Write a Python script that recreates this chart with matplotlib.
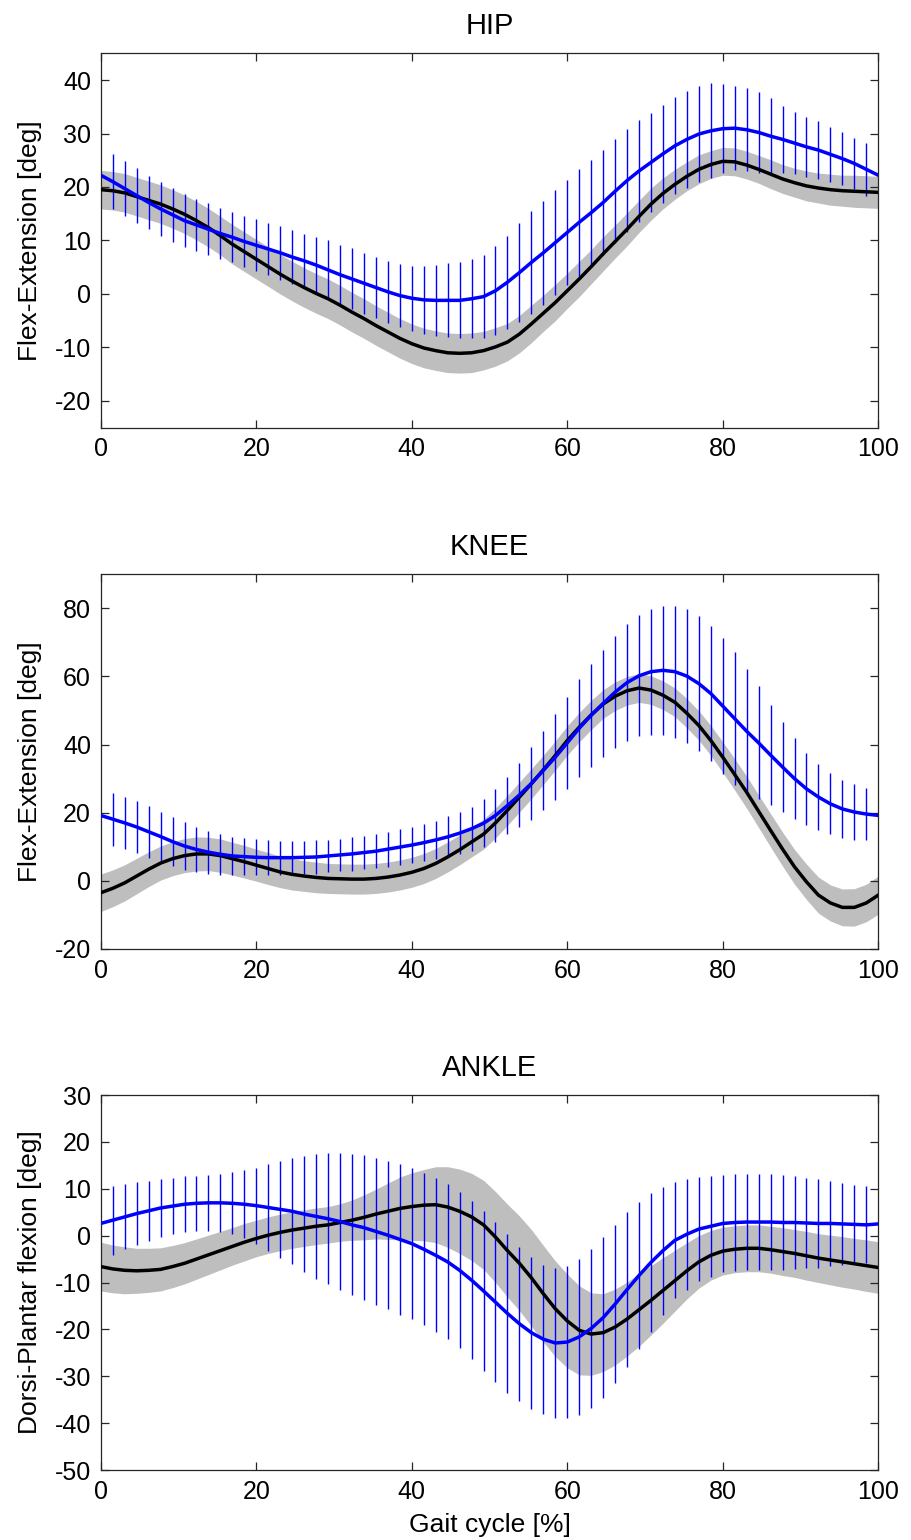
import numpy as np
import matplotlib
matplotlib.use("Agg")
from matplotlib import pyplot as plt

plt.rcParams['font.family'] = ['Liberation Sans', 'DejaVu Sans']
plt.rcParams['axes.unicode_minus'] = False

# gait cycle sampled at 66 points, 0..100 %
gait = np.linspace(0, 100, 66)

# reference group (black line, grey band = +/- 1 SD)
hip_ref = [19.5, 19.3, 18.9, 18.2, 17.5, 16.8, 15.9, 14.9, 13.7, 12.4, 10.9,
           9.3, 7.9, 6.5, 5.1, 3.7, 2.4, 1.2, 0.1, -0.9, -2.1, -3.4,
           -4.6, -5.9, -7.1, -8.3, -9.3, -10.1, -10.6, -11.0, -11.1, -11.0, -10.6,
           -9.9, -9.0, -7.5, -5.6, -3.6, -1.6, 0.6, 2.8, 5.1, 7.5, 9.8,
           12.1, 14.5, 16.8, 18.8, 20.5, 22.0, 23.3, 24.2, 24.8, 24.7, 24.1,
           23.3, 22.4, 21.5, 20.8, 20.2, 19.8, 19.5, 19.3, 19.2, 19.1, 19.0]
hip_ref_sd = [3.6, 3.6, 3.6, 3.6, 3.6, 3.6, 3.6, 3.6, 3.6, 3.6, 3.6,
              3.7, 3.7, 3.7, 3.7, 3.7, 3.7, 3.7, 3.7, 3.7, 3.7, 3.7,
              3.7, 3.7, 3.7, 3.7, 3.7, 3.7, 3.7, 3.7, 3.7, 3.7, 3.6,
              3.6, 3.5, 3.5, 3.5, 3.4, 3.4, 3.3, 3.3, 3.2, 3.2, 3.1,
              3.1, 3.0, 3.0, 2.9, 2.8, 2.7, 2.7, 2.6, 2.6, 2.6, 2.6,
              2.6, 2.7, 2.7, 2.7, 2.8, 2.8, 2.9, 2.9, 3.0, 3.0, 3.0]
knee_ref = [-3.5, -2.2, -0.6, 1.4, 3.4, 5.2, 6.5, 7.4, 7.9, 7.9, 7.4,
            6.5, 5.6, 4.6, 3.6, 2.6, 1.9, 1.4, 1.0, 0.7, 0.6, 0.5,
            0.5, 0.7, 1.1, 1.7, 2.5, 3.6, 5.1, 7.0, 9.1, 11.4, 13.7,
            17.0, 20.7, 24.6, 28.5, 32.6, 36.8, 41.2, 45.1, 48.7, 51.9, 54.2,
            55.8, 56.6, 56.0, 54.5, 52.4, 49.2, 45.6, 41.2, 36.3, 31.2, 26.0,
            20.4, 14.8, 9.3, 4.1, -0.3, -4.2, -6.5, -7.8, -7.8, -6.5, -4.2]
knee_ref_sd = [5.5, 5.4, 5.3, 5.2, 5.1, 5.0, 5.0, 5.0, 5.0, 4.9, 4.9,
               4.8, 4.8, 4.7, 4.7, 4.6, 4.6, 4.5, 4.5, 4.4, 4.4, 4.4,
               4.4, 4.4, 4.4, 4.4, 4.4, 4.4, 4.4, 4.4, 4.4, 4.4, 4.4,
               4.4, 4.4, 4.4, 4.4, 4.3, 4.3, 4.3, 4.3, 4.3, 4.2, 4.2,
               4.2, 4.2, 4.2, 4.2, 4.2, 4.3, 4.3, 4.4, 4.5, 4.6, 4.7,
               4.8, 4.9, 5.0, 5.1, 5.2, 5.3, 5.3, 5.4, 5.5, 5.5, 5.6]
ankle_ref = [-6.6, -7.1, -7.4, -7.5, -7.4, -7.2, -6.6, -5.9, -5.0, -4.1, -3.2,
             -2.3, -1.4, -0.6, 0.1, 0.7, 1.2, 1.6, 2.0, 2.3, 2.8, 3.3,
             3.9, 4.6, 5.2, 5.8, 6.2, 6.5, 6.6, 6.1, 5.2, 4.0, 2.3,
             -0.3, -3.2, -5.9, -9.0, -12.4, -15.6, -18.2, -20.2, -21.0, -20.7, -19.5,
             -17.8, -15.8, -13.8, -11.7, -9.6, -7.5, -5.6, -4.2, -3.3, -2.9, -2.7,
             -2.7, -3.0, -3.4, -3.8, -4.3, -4.8, -5.2, -5.6, -6.0, -6.4, -6.8]
ankle_ref_sd = [5.2, 5.1, 5.0, 4.8, 4.7, 4.6, 4.5, 4.4, 4.3, 4.2, 4.1,
                4.0, 4.0, 3.9, 3.9, 3.9, 3.9, 3.9, 3.9, 3.9, 4.0, 4.3,
                4.8, 5.3, 6.0, 6.7, 7.2, 7.6, 8.1, 8.6, 9.0, 9.3, 9.5,
                9.7, 9.9, 10.1, 10.3, 10.3, 10.2, 10.0, 9.5, 8.8, 8.3, 8.1,
                7.9, 7.8, 7.4, 7.0, 6.5, 6.0, 5.6, 5.3, 5.1, 5.0, 5.0,
                5.0, 5.0, 5.1, 5.1, 5.2, 5.2, 5.3, 5.4, 5.4, 5.5, 5.5]

# patient (blue line with +/- 1 SD bars)
hip_pat = [22.2, 21.0, 19.7, 18.4, 17.1, 15.9, 14.8, 13.7, 12.9, 12.1, 11.3,
           10.6, 9.8, 9.1, 8.4, 7.7, 6.9, 6.2, 5.4, 4.5, 3.6, 2.8,
           2.0, 1.2, 0.4, -0.3, -0.8, -1.1, -1.2, -1.2, -1.2, -0.9, -0.5,
           0.6, 2.2, 4.0, 5.9, 7.7, 9.6, 11.5, 13.4, 15.2, 17.1, 19.2,
           21.2, 23.0, 24.6, 26.2, 27.7, 28.9, 29.9, 30.5, 30.9, 31.0, 30.7,
           30.2, 29.5, 28.9, 28.2, 27.5, 26.9, 26.1, 25.3, 24.4, 23.3, 22.2]
hip_pat_sd = [5.3, 5.2, 5.1, 5.1, 5.0, 5.0, 5.0, 5.0, 4.9, 4.85, 4.8,
              4.7, 4.8, 4.9, 4.9, 5.0, 5.0, 5.1, 5.3, 5.5, 5.6, 5.7,
              5.7, 5.7, 5.8, 5.9, 6.1, 6.4, 6.6, 6.9, 7.1, 7.35, 7.8,
              8.35, 8.7, 9.2, 9.6, 9.7, 9.75, 9.9, 10.0, 9.9, 9.8, 9.75,
              9.7, 9.5, 9.3, 9.2, 9.05, 9.0, 9.0, 8.9, 8.3, 7.9, 7.8,
              7.6, 7.15, 6.3, 5.8, 5.6, 5.4, 5.1, 4.9, 4.8, 5.0, 5.0]
knee_pat = [19.2, 18.1, 17.0, 15.8, 14.4, 13.0, 11.5, 10.2, 9.2, 8.4, 7.8,
            7.3, 7.1, 6.9, 6.8, 6.8, 6.8, 6.9, 7.0, 7.3, 7.6, 7.9,
            8.3, 8.7, 9.3, 9.9, 10.5, 11.2, 12.0, 12.9, 14.0, 15.3, 16.9,
            19.2, 22.1, 25.2, 28.6, 32.4, 36.3, 40.5, 44.8, 48.6, 52.1, 55.4,
            58.2, 60.2, 61.4, 61.8, 61.4, 60.1, 57.9, 55.0, 51.3, 47.6, 43.9,
            40.5, 36.9, 33.4, 30.0, 27.0, 24.6, 22.6, 21.1, 20.2, 19.6, 19.2]
knee_pat_sd = [7.8, 7.8, 7.7, 7.7, 7.6, 7.3, 7.2, 7.0, 6.7, 6.3, 6.0,
               5.7, 5.5, 5.3, 5.1, 5.0, 4.9, 4.9, 4.9, 4.8, 4.8, 4.9,
               4.9, 5.0, 5.1, 5.3, 5.4, 5.5, 5.7, 6.0, 6.1, 6.4, 7.0,
               7.8, 8.5, 9.5, 10.6, 11.7, 12.6, 13.6, 14.4, 15.2, 15.7, 16.4,
               17.2, 17.8, 18.5, 19.0, 19.4, 19.7, 19.8, 19.9, 20.0, 19.6, 18.3,
               16.6, 14.6, 13.2, 11.8, 10.6, 9.7, 9.0, 8.4, 8.1, 7.7, 7.6]
ankle_pat = [2.6, 3.3, 4.0, 4.7, 5.3, 5.9, 6.3, 6.7, 6.9, 7.0, 7.0,
             6.9, 6.7, 6.4, 6.0, 5.6, 5.2, 4.6, 4.1, 3.6, 3.0, 2.3,
             1.7, 0.9, 0.1, -0.8, -1.7, -2.9, -4.2, -5.6, -7.4, -9.5, -11.8,
             -14.2, -16.6, -18.8, -20.7, -22.1, -22.9, -22.7, -21.6, -19.8, -17.5, -14.6,
             -11.5, -8.5, -5.7, -3.2, -1.0, 0.3, 1.4, 2.0, 2.6, 2.8, 2.9,
             2.9, 2.9, 2.8, 2.8, 2.7, 2.6, 2.6, 2.5, 2.4, 2.3, 2.5]
ankle_pat_sd = [7.6, 7.35, 6.95, 6.65, 6.4, 6.15, 6.0, 5.95, 5.9, 6.0, 6.15,
                6.6, 7.3, 8.1, 9.25, 10.3, 11.3, 12.35, 13.25, 13.95, 14.6, 15.05,
                15.4, 15.7, 15.85, 16.05, 16.15, 16.25, 16.4, 16.55, 16.65, 16.9, 17.15,
                17.1, 16.9, 16.45, 16.2, 15.9, 16.0, 16.2, 16.7, 17.0, 17.2, 16.9,
                16.45, 15.65, 14.8, 13.65, 12.4, 11.85, 11.1, 10.75, 10.3, 10.3, 10.25,
                10.25, 10.2, 10.05, 9.85, 9.7, 9.55, 9.15, 8.75, 8.4, 8.2, 8.1]


def panel(ax, title, ylabel, ref, ref_sd, pat, pat_sd, ylim, yticks):
    ref = np.array(ref)
    ref_sd = np.array(ref_sd)
    pat = np.array(pat)
    pat_sd = np.array(pat_sd)

    ax.fill_between(gait, ref - ref_sd, ref + ref_sd, color="#bebebe", lw=0, zorder=1)
    ax.errorbar(gait[1:-1], pat[1:-1], yerr=pat_sd[1:-1], fmt="none",
                ecolor="#0000ff", elinewidth=1.0, capsize=0, zorder=2)
    ax.plot(gait, ref, color="black", lw=2.5, zorder=3)
    ax.plot(gait, pat, color="#0000ff", lw=2.5, zorder=4)

    ax.set_xlim(0, 100)
    ax.set_ylim(*ylim)
    ax.set_xticks([0, 20, 40, 60, 80, 100])
    ax.set_yticks(yticks)
    ax.tick_params(direction="in", length=6, width=0.9, labelsize=18,
                   top=True, right=True, pad=7, colors="#262626", labelcolor="black")
    for s in ax.spines.values():
        s.set_linewidth(0.9)
        s.set_color("#262626")
    ax.set_title(title, fontsize=21, pad=14)
    ax.set_ylabel(ylabel, fontsize=19)
    ax.yaxis.set_label_coords(-0.076, 0.5)


fig = plt.figure(figsize=(9.12, 15.4), dpi=100)
ax1 = fig.add_axes([0.1105, 0.7223, 0.8525, 0.2431])
ax2 = fig.add_axes([0.1105, 0.3838, 0.8525, 0.2433])
ax3 = fig.add_axes([0.1105, 0.04545, 0.8525, 0.2435])

panel(ax1, "HIP", "Flex-Extension [deg]", hip_ref, hip_ref_sd, hip_pat, hip_pat_sd,
      (-25, 45), [-20, -10, 0, 10, 20, 30, 40])
panel(ax2, "KNEE", "Flex-Extension [deg]", knee_ref, knee_ref_sd, knee_pat, knee_pat_sd,
      (-20, 90), [-20, 0, 20, 40, 60, 80])
panel(ax3, "ANKLE", "Dorsi-Plantar flexion [deg]", ankle_ref, ankle_ref_sd, ankle_pat, ankle_pat_sd,
      (-50, 30), [-50, -40, -30, -20, -10, 0, 10, 20, 30])
ax3.set_xlabel("Gait cycle [%]", fontsize=19, labelpad=7)

fig.savefig("out.png", dpi=100)
